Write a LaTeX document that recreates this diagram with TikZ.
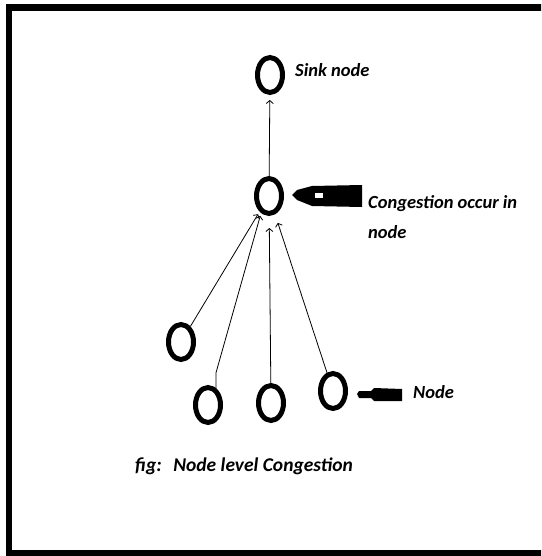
\documentclass[tikz,border=0pt]{standalone}
\usepackage{fontspec}
\setmainfont{Carlito}
\usetikzlibrary{arrows.meta,shapes.geometric}
\tikzset{
	pnode/.style={draw, ellipse, line width=5pt, minimum width=25pt, minimum height=35pt, inner sep=0pt},
	link/.style={line width=0.8pt, -{Straight Barb[length=3pt,width=7pt]}},
	lbl/.style={font=\fontsize{18.5}{30}\selectfont\bfseries\itshape, inner sep=0pt, anchor=base west, align=left},
	frame/.style={line width=6.5pt}
}

\begin{document}
\begin{tikzpicture}[x=1pt, y=-1pt]
			%%%%% START %%%%%
			\useasboundingbox (0, 0) rectangle (541, 556);
			\clip (0, 0) rectangle (541, 556);
			
			\draw[frame] (9, 7.5) rectangle (600, 553);
			
			\node[pnode] (sink) at (270, 75) {};
			\node[pnode] (cong) at (269, 196) {};
			
			\node[pnode] (n1) at (181, 342) {};
			\node[pnode] (n2) at (208, 405) {};
			\node[pnode] (n3) at (271, 403) {};
			\node[pnode] (n4) at (333, 391) {};
			
			\draw[link, shorten >=5pt] (cong) -- (sink);
			
			\draw[link, shorten >=3pt] (n1) -- (cong);
			\draw[link, shorten >=3pt] (n2.65) -- ++(0, -15) -- (cong.245);
			\draw[link, shorten >=12pt] (n3) -- (cong);
			\draw[link, shorten >=9pt] (n4) -- (cong);
			
			% pointers
			\fill (292, 195) -- (297, 190) -- (312, 186) -- (362, 185) -- (362, 207) -- (312, 206) -- (297, 200) -- cycle;
			\fill[white] (315, 193) rectangle (323, 198);
			\fill (357, 394) -- (359, 391) -- (371, 391) -- (374, 388) -- (402, 389) -- (402, 401) -- (374, 401) -- (371, 398) -- (359, 398) -- cycle;
			
			\node[lbl] (sinktxt) at (295, 77) {Sink node};
			\node[lbl] (congtxt) at (368, 238) {Congestion occur in\\node};
			\node[lbl] (nodetxt) at (413, 398) {Node};
			
			\node[lbl, font=\fontsize{19.5}{24}\selectfont\bfseries\itshape] (caption) at (135, 471) {fig:\hspace{0.6em}Node level Congestion};
			%%%%% END %%%%%
		\end{tikzpicture}
\end{document}
